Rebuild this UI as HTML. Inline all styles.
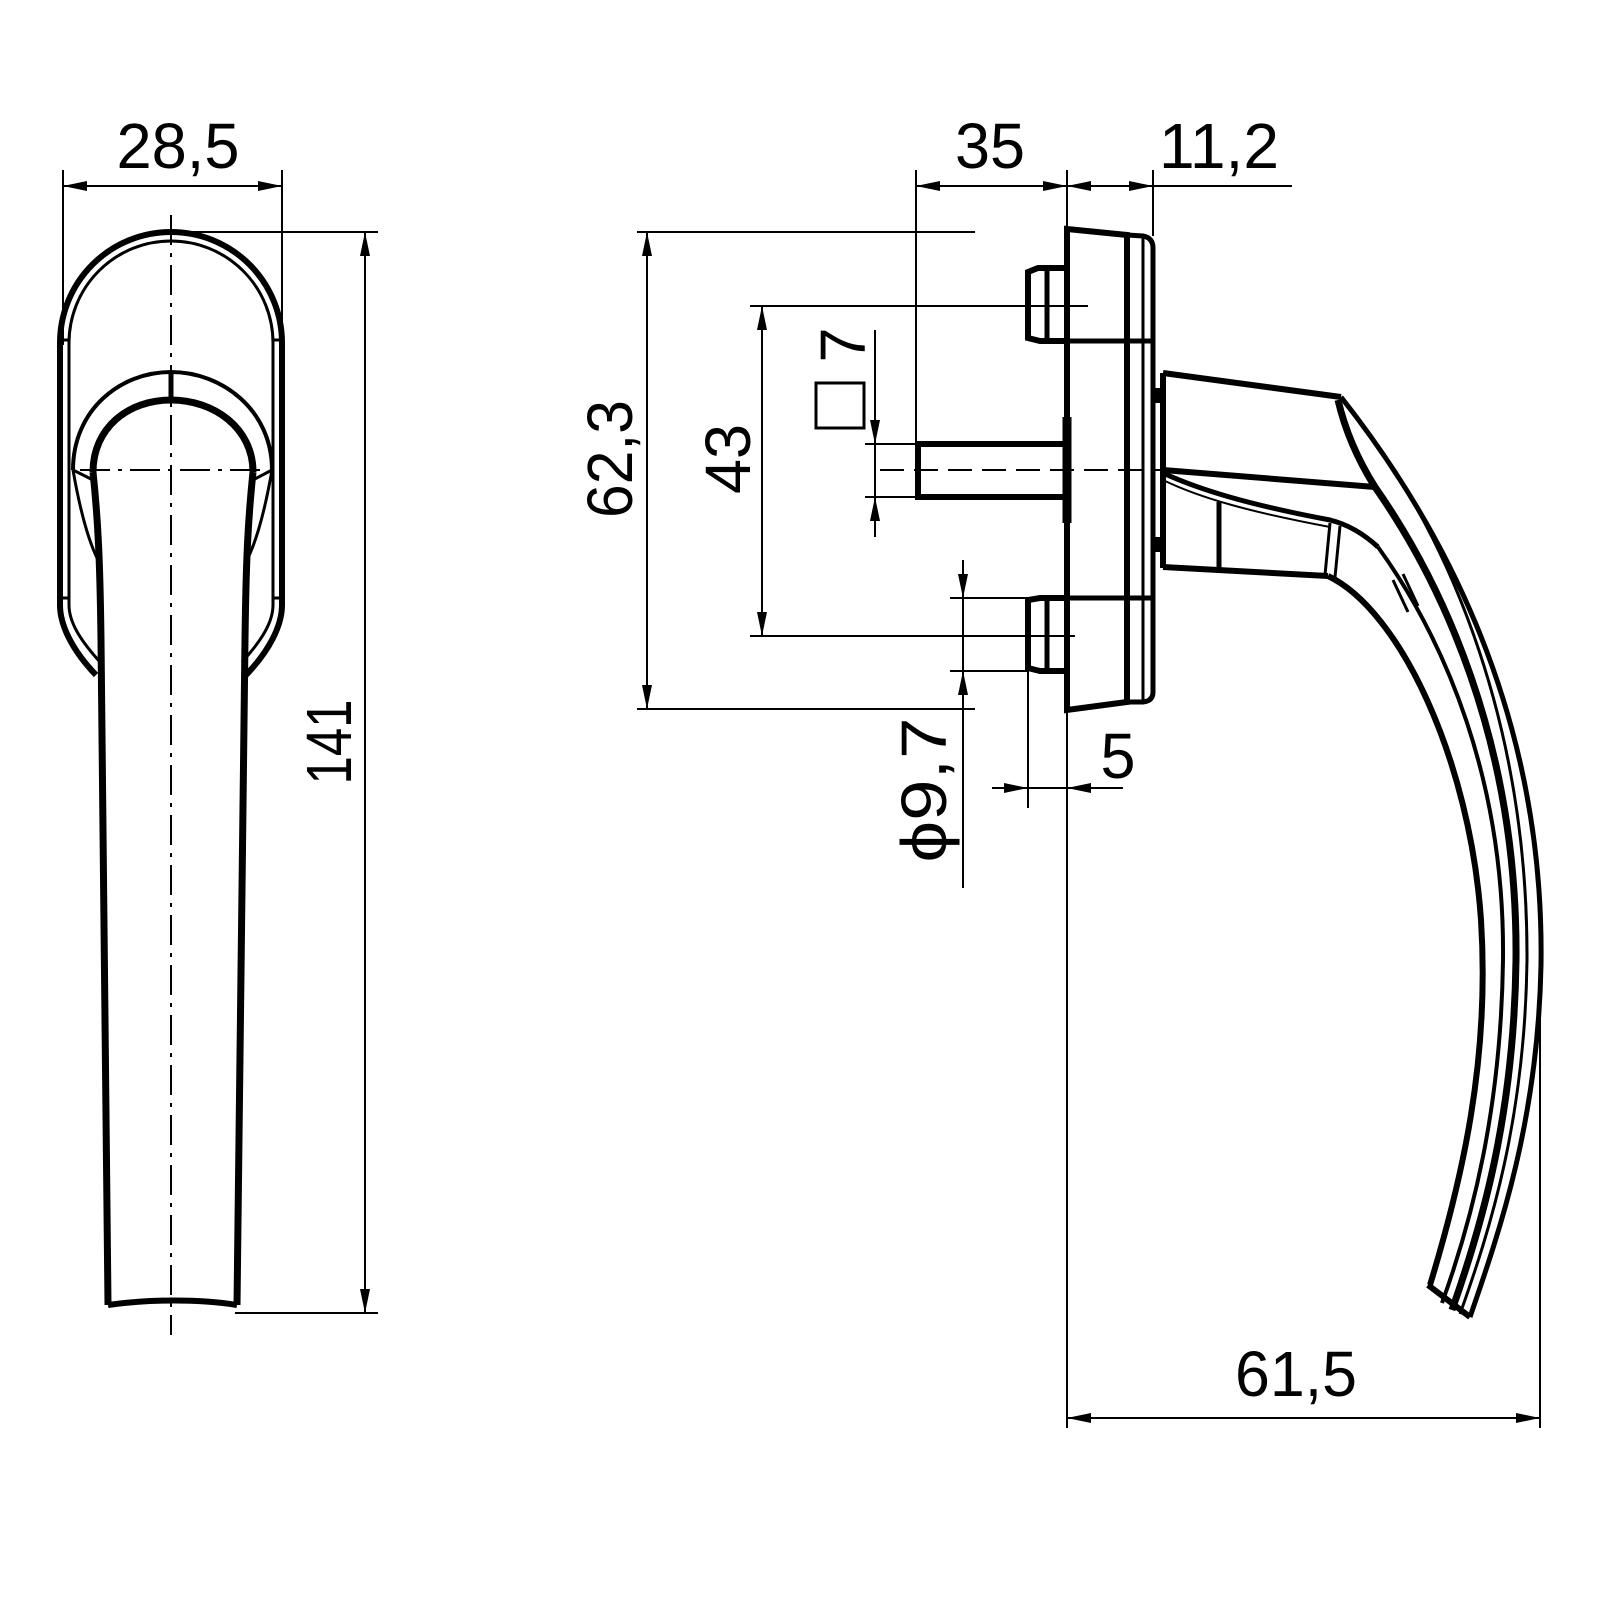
<!DOCTYPE html>
<html><head><meta charset="utf-8"><style>
html,body{margin:0;padding:0;background:#fff;}
svg{display:block;}
text{font-family:"Liberation Sans Narrow","Liberation Sans",sans-serif;fill:#000;}
</style></head><body>
<svg width="1600" height="1600" viewBox="0 0 1600 1600" xmlns="http://www.w3.org/2000/svg">
<defs>
<marker id="a" viewBox="0 0 24 10" refX="24" refY="5" markerWidth="24" markerHeight="10" markerUnits="userSpaceOnUse" orient="auto-start-reverse">
<path d="M0,0 L24,5 L0,10 Z" fill="#000"/></marker>
</defs>
<rect width="1600" height="1600" fill="#fff"/>

<!-- ============ LEFT VIEW ============ -->
<g fill="none" stroke="#000">
<!-- dims -->
<line x1="63" y1="170" x2="63" y2="345" stroke-width="2"/>
<line x1="282" y1="170" x2="282" y2="345" stroke-width="2"/>
<line x1="63" y1="186" x2="282" y2="186" stroke-width="2" marker-start="url(#a)" marker-end="url(#a)"/>
<line x1="171" y1="232" x2="378" y2="232" stroke-width="2"/>
<line x1="235" y1="1313" x2="378" y2="1313" stroke-width="2"/>
<line x1="365" y1="232" x2="365" y2="1313" stroke-width="2" marker-start="url(#a)" marker-end="url(#a)"/>
<!-- centerlines -->
<line x1="171" y1="215" x2="171" y2="1335" stroke-width="2" stroke-dasharray="30,8,4,8"/>
<line x1="80" y1="470" x2="262" y2="470" stroke-width="2" stroke-dasharray="30,8,4,8"/>
<!-- oval outer -->
<path d="M96,675 C72,650 60,625 60,605 L60,343 A111,111 0 0 1 282,343 L282,605 C282,625 270,650 246,675" stroke-width="6"/>
<path d="M100,662 C80,640 69,622 69,605 L69,343 A102,102 0 0 1 273,343 L273,605 C273,622 262,640 242,662" stroke-width="3"/>
<line x1="60" y1="340" x2="69" y2="340" stroke-width="3"/>
<line x1="273" y1="340" x2="282" y2="340" stroke-width="3"/>
<line x1="60" y1="598" x2="69" y2="598" stroke-width="3"/>
<line x1="273" y1="598" x2="282" y2="598" stroke-width="3"/>
<!-- arch -->
<path d="M73,470 C73,410 120,372 171,372 C222,372 272,410 272,470" stroke-width="4"/>
<path d="M93,472 C93,428 128,400 171,400 C214,400 253,428 253,472" stroke-width="7"/>
<line x1="171" y1="372" x2="171" y2="400" stroke-width="5"/>
<!-- wings -->
<path d="M73,470 L93,480 M73,470 C80,510 88,540 98,560" stroke-width="3"/>
<path d="M272,470 L253,480 M272,470 C265,510 257,540 247,560" stroke-width="3"/>
<!-- shaft -->
<path d="M93,472 C98,520 100,560 101,640 L108,1305" stroke-width="7"/>
<path d="M253,472 C248,520 246,560 245,640 L237,1305" stroke-width="7"/>
<path d="M108,1305 C150,1299 200,1299 237,1305" stroke-width="6"/>
</g>
<text x="178" y="168" font-size="64" text-anchor="middle" textLength="123" lengthAdjust="spacingAndGlyphs">28,5</text>
<text transform="translate(351,742) rotate(-90)" font-size="64" text-anchor="middle" textLength="85" lengthAdjust="spacingAndGlyphs">141</text>

<!-- ============ RIGHT VIEW ============ -->
<g fill="none" stroke="#000">
<!-- top dims -->
<line x1="916" y1="170" x2="916" y2="444" stroke-width="2"/>
<line x1="1067" y1="170" x2="1067" y2="229" stroke-width="2"/>
<line x1="1153" y1="170" x2="1153" y2="236" stroke-width="2"/>
<line x1="916" y1="186" x2="1067" y2="186" stroke-width="2" marker-start="url(#a)" marker-end="url(#a)"/>
<line x1="1067" y1="186" x2="1153" y2="186" stroke-width="2" marker-end="url(#a)"/>
<line x1="1090" y1="186" x2="1067" y2="186" stroke-width="2" marker-end="url(#a)"/>
<line x1="1153" y1="186" x2="1292" y2="186" stroke-width="2"/>
<!-- 62,3 -->
<line x1="637" y1="232" x2="975" y2="232" stroke-width="2"/>
<line x1="637" y1="709" x2="975" y2="709" stroke-width="2"/>
<line x1="647" y1="232" x2="647" y2="709" stroke-width="2" marker-start="url(#a)" marker-end="url(#a)"/>
<!-- 43 -->
<line x1="750" y1="306" x2="1088" y2="306" stroke-width="2"/>
<line x1="750" y1="636" x2="1075" y2="636" stroke-width="2"/>
<line x1="762" y1="306" x2="762" y2="636" stroke-width="2" marker-start="url(#a)" marker-end="url(#a)"/>
<!-- square 7 -->
<rect x="816" y="383" width="48" height="45" stroke-width="3"/>
<line x1="865" y1="444" x2="916" y2="444" stroke-width="2"/>
<line x1="865" y1="497" x2="916" y2="497" stroke-width="2"/>
<line x1="875" y1="330" x2="875" y2="444" stroke-width="2" marker-end="url(#a)"/>
<line x1="875" y1="537" x2="875" y2="497" stroke-width="2" marker-end="url(#a)"/>
<line x1="875" y1="444" x2="875" y2="497" stroke-width="2"/>
<!-- phi 9,7 -->
<line x1="950" y1="598" x2="1028" y2="598" stroke-width="2"/>
<line x1="950" y1="671" x2="1028" y2="671" stroke-width="2"/>
<line x1="963" y1="560" x2="963" y2="598" stroke-width="2" marker-end="url(#a)"/>
<line x1="963" y1="598" x2="963" y2="671" stroke-width="2"/>
<line x1="963" y1="888" x2="963" y2="671" stroke-width="2" marker-end="url(#a)"/>
<!-- 5 -->
<line x1="1028" y1="671" x2="1028" y2="808" stroke-width="2"/>
<line x1="992" y1="788" x2="1028" y2="788" stroke-width="2" marker-end="url(#a)"/>
<line x1="1123" y1="788" x2="1067" y2="788" stroke-width="2" marker-end="url(#a)"/>
<line x1="1028" y1="788" x2="1067" y2="788" stroke-width="2"/>
<!-- 61,5 -->
<line x1="1067" y1="709" x2="1067" y2="1428" stroke-width="2"/>
<line x1="1540" y1="960" x2="1540" y2="1428" stroke-width="2"/>
<line x1="1067" y1="1418" x2="1540" y2="1418" stroke-width="2" marker-start="url(#a)" marker-end="url(#a)"/>

<!-- plate -->
<path d="M1067,229 L1127,235 L1127,702 L1067,710 Z" stroke-width="6"/>
<path d="M1127,235 L1143,236 Q1153,238 1153,248 L1153,692 Q1153,701 1143,702 L1127,702" stroke-width="5"/>
<line x1="1143" y1="236" x2="1143" y2="702" stroke-width="3"/>
<line x1="1067" y1="341" x2="1153" y2="341" stroke-width="5"/>
<line x1="1067" y1="598" x2="1153" y2="598" stroke-width="5"/>
<!-- upper boss -->
<path d="M1067,268 L1038,268 L1028,272 L1028,338 L1040,341 L1067,341" stroke-width="6"/>
<line x1="1047" y1="268" x2="1047" y2="341" stroke-width="5"/>
<!-- lower boss -->
<path d="M1067,598 L1040,598 L1028,600 L1028,668 L1040,671 L1067,671" stroke-width="6"/>
<line x1="1047" y1="596" x2="1047" y2="672" stroke-width="5"/>
<line x1="1010" y1="306" x2="1088" y2="306" stroke-width="2"/>
<!-- spindle -->
<path d="M1067,444 L918,444 L918,497 L1067,497" stroke-width="6"/>
<line x1="1067" y1="417" x2="1067" y2="523" stroke-width="9"/>
<line x1="880" y1="470" x2="1175" y2="470" stroke-width="2" stroke-dasharray="24,10"/>
<!-- tabs -->
<line x1="1157" y1="388" x2="1157" y2="403" stroke-width="8"/>
<line x1="1157" y1="537" x2="1157" y2="552" stroke-width="8"/>
<!-- rose -->
<path d="M1163,373 L1163,568" stroke-width="6"/>
<path d="M1163,373 L1341,397" stroke-width="6"/>
<path d="M1163,470 L1375,487" stroke-width="6"/>
<path d="M1163,567 L1328,576" stroke-width="6"/>
<path d="M1163,473 C1200,490 1250,505 1330,520 C1350,525 1365,535 1378,547" stroke-width="5"/>
<path d="M1163,480 C1200,498 1250,512 1330,527" stroke-width="2"/>
<line x1="1219" y1="502" x2="1219" y2="570" stroke-width="5"/>
<path d="M1330,523 L1325,575 M1340,526 L1335,577" stroke-width="3"/>
<path d="M1393,580 L1408,612 M1403,574 L1418,606" stroke-width="3"/>
<!-- handle -->
<path d="M1341,397 C1430,510 1545,700 1541,965 C1538,1120 1500,1230 1470,1317" stroke-width="5"/>
<path d="M1338,400 C1345,430 1358,460 1375,487" stroke-width="7"/>
<path d="M1352,412 C1440,520 1528,710 1527,960 C1525,1120 1490,1230 1460,1314" stroke-width="3"/>
<path d="M1375,487 C1440,580 1518,740 1516,960 C1514,1115 1482,1225 1452,1310" stroke-width="7"/>
<path d="M1378,547 C1445,640 1505,780 1503,960 C1501,1110 1472,1220 1442,1303" stroke-width="4"/>
<path d="M1328,576 C1400,610 1470,760 1481,920 C1490,1060 1462,1180 1430,1285" stroke-width="6"/>
<path d="M1428,1285 L1470,1317" stroke-width="6"/>
</g>
<text x="990" y="168" font-size="64" text-anchor="middle" textLength="70" lengthAdjust="spacingAndGlyphs">35</text>
<text x="1219" y="168" font-size="64" text-anchor="middle" textLength="120" lengthAdjust="spacingAndGlyphs">11,2</text>
<text transform="translate(632,459) rotate(-90)" font-size="64" text-anchor="middle" textLength="118" lengthAdjust="spacingAndGlyphs">62,3</text>
<text transform="translate(750,459) rotate(-90)" font-size="64" text-anchor="middle" textLength="70" lengthAdjust="spacingAndGlyphs">43</text>
<text transform="translate(865,345) rotate(-90)" font-size="64" text-anchor="middle" textLength="35" lengthAdjust="spacingAndGlyphs">7</text>
<text transform="translate(946,790) rotate(-90)" font-size="64" text-anchor="middle" textLength="145" lengthAdjust="spacingAndGlyphs">ϕ9,7</text>
<text x="1118" y="778" font-size="64" text-anchor="middle" textLength="35" lengthAdjust="spacingAndGlyphs">5</text>
<text x="1296" y="1396" font-size="64" text-anchor="middle" textLength="122" lengthAdjust="spacingAndGlyphs">61,5</text>
</svg>
</body></html>
